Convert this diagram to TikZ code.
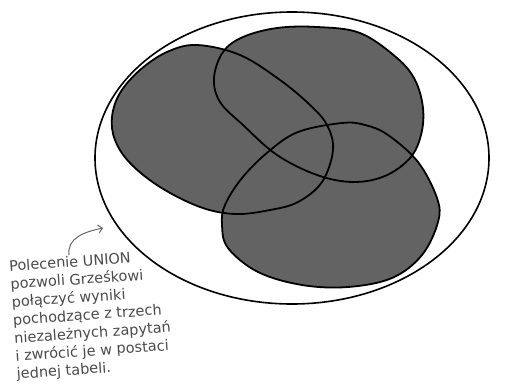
\documentclass[tikz,border=0pt]{standalone}
\usepackage{fontspec}
\setmainfont{DejaVu Sans}
\usetikzlibrary{arrows.meta}

\definecolor{blobgray}{HTML}{636363}
\definecolor{notegray}{HTML}{4A4A4A}

\tikzset{
    blobfill/.style={fill=blobgray},
    blobline/.style={draw=black,line width=1.8pt},
    notetext/.style={text=notegray,font=\fontsize{14.5}{18}\selectfont,align=left,inner sep=0pt},
    notearrow/.style={draw=black!60,line width=1pt,-{Straight Barb[length=4pt,width=8pt]}}
}

\newcommand{\blobLeft}{plot[smooth cycle,tension=0.6] coordinates {
    (197,45) (167,52) (140,70) (120,93) (112,117) (115,140) (130,163)
    (160,187) (200,207) (235,214) (270,210) (298,202) (322,182) (333,150)
    (327,125) (310,105) (280,80) (240,55)}}
\newcommand{\blobTop}{plot[smooth cycle,tension=0.6] coordinates {
    (214,78) (223,52) (243,37) (277,28) (317,27) (360,33) (397,58) (415,80)
    (423,108) (421,135) (410,158) (385,176) (353,182) (317,175) (277,155) (243,125) (220,102)}}
\newcommand{\blobBottom}{plot[smooth cycle,tension=0.6] coordinates {
    (342,123) (298,132) (268,152) (242,178) (225,205) (222,225) (228,248)
    (258,272) (302,285) (348,287) (392,278) (422,255) (438,222) (437,198)
    (418,162) (388,135) (365,125)}}

\begin{document}
\begin{tikzpicture}[x=1pt,y=-1pt]
    \useasboundingbox (0,0) rectangle (509,391);

    % outer set
    \draw[line width=1.6pt] (292,158) ellipse [x radius=197, y radius=146];

    % the three query results
    \path[blobfill] \blobLeft;
    \path[blobfill] \blobTop;
    \path[blobfill] \blobBottom;
    \draw[blobline] \blobLeft;
    \draw[blobline] \blobTop;
    \draw[blobline] \blobBottom;

    % note (anchored on its last line)
    \node[notetext,anchor=base west,rotate=4] (note) at (17,379)
        {Polecenie UNION\\pozwoli Grześkowi\\połączyć wyniki\\pochodzące z trzech\\niezależnych zapytań\\i zwrócić je w postaci\\jednej tabeli.};
    \coordinate (arrowstart) at (69,255);
    \coordinate (arrowtip) at (103,228);
    \draw[notearrow] (arrowstart) .. controls (67,238) and (84,232) .. (arrowtip);
\end{tikzpicture}
\end{document}
